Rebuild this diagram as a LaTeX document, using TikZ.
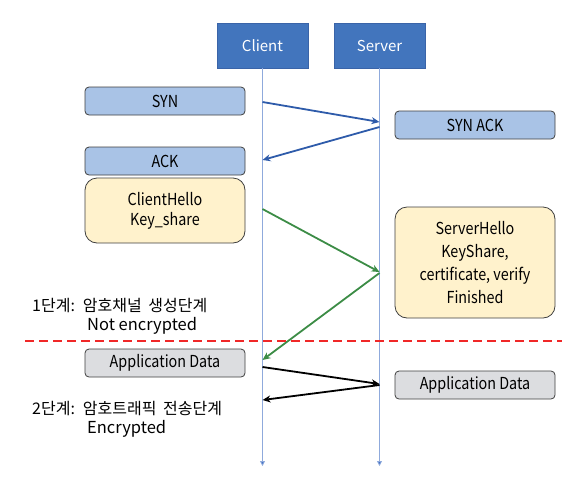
\documentclass[tikz,border=0pt]{standalone}
\usepackage{fontspec}
\setmainfont{Noto Sans CJK KR}
\newfontfamily\boxfont[FakeStretch=0.87]{Noto Sans CJK KR}
\usetikzlibrary{arrows.meta}
\newcommand{\myStepFont}{\fontsize{16}{18}\selectfont\spaceskip=0.42em plus 0.1em\relax}
\definecolor{hdr}{HTML}{4275BD}
\definecolor{hdrb}{HTML}{3A64A8}
\definecolor{life}{HTML}{8FAADC}
\definecolor{lifetip}{HTML}{4472C4}
\definecolor{ablue}{HTML}{2E5BAA}
\definecolor{agreen}{HTML}{3C8C46}
\definecolor{lblue}{HTML}{A9C3E6}
\definecolor{lyellow}{HTML}{FFF2CC}
\definecolor{lgray}{HTML}{DCDDE0}
\definecolor{bord}{HTML}{3F3F3F}
\definecolor{dred}{HTML}{F02828}
\tikzset{
  hdrbox/.style={draw=hdrb, fill=hdr, text=white, minimum width=91pt, minimum height=45pt, font=\fontsize{15}{18}\selectfont, inner sep=0pt},
  msgbox/.style={draw=bord, line width=0.8pt, rounded corners=4pt, minimum width=160pt, minimum height=28pt, inner sep=0pt, font=\boxfont\fontsize{16.5}{20}\selectfont},
  bigbox/.style={draw=bord, line width=0.8pt, rounded corners=12pt, minimum width=160pt, inner sep=0pt, align=center, font=\boxfont\fontsize{16.5}{23}\selectfont},
  lifeline/.style={draw=life, line width=0.8pt, -{Triangle[length=5pt,width=5pt,fill=lifetip]}},
  msg/.style={line width=1.8pt, -{Stealth[length=8pt,width=7pt]}},
  steptext/.style={anchor=base west, font=\myStepFont, inner sep=0pt},
  steptextb/.style={anchor=base west, font=\fontsize{16.5}{18}\selectfont, inner sep=0pt}
}
\begin{document}
\begin{tikzpicture}[x=1pt,y=-1pt]
\useasboundingbox (0,0) rectangle (588,488);
% headers
\node[hdrbox] (client) at (262.5,45.5) {Client};
\node[hdrbox] (server) at (379.5,45.5) {Server};
% lifelines
\coordinate (cend) at (262.5,466);
\coordinate (send) at (379.5,466);
\draw[lifeline] (client.south) -- (cend);
\draw[lifeline] (server.south) -- (send);
% boxes
\node[msgbox, fill=lblue] (syn) at (165,101) {SYN};
\node[msgbox, fill=lblue] (ack) at (165,161) {ACK};
\node[bigbox, fill=lyellow, minimum height=65pt] (ch) at (165,210.5) {ClientHello\\[-3pt]Key\_share};
\node[msgbox, fill=lblue] (synack) at (475,125) {SYN ACK};
\node[bigbox, fill=lyellow, minimum height=111pt] (sh) at (475,262.5) {ServerHello\\KeyShare,\\certificate, verify\\Finished};
\node[msgbox, fill=lgray] (adl) at (165,363) {Application Data};
\node[msgbox, fill=lgray] (adr) at (475,385) {Application Data};
% message points
\coordinate (c1) at (262.5,102);
\coordinate (s1) at (379.5,122);
\coordinate (s2) at (379.5,127);
\coordinate (c2) at (262.5,160);
\coordinate (c3) at (262.5,209);
\coordinate (s3) at (379.5,272);
\coordinate (s4) at (379.5,273);
\coordinate (c4) at (262.5,360);
\coordinate (c5) at (262.5,367);
\coordinate (s5) at (379.5,384);
\coordinate (s6) at (379.5,385);
\coordinate (c6) at (262.5,400);
\draw[msg, ablue] (c1) -- (s1);
\draw[msg, ablue] (s2) -- (c2);
\draw[msg, agreen] (c3) -- (s3);
\draw[msg, agreen] (s4) -- (c4);
\draw[msg, black] (c5) -- (s5);
\draw[msg, black] (s6) -- (c6);
% dashed separator
\coordinate (dl) at (25,341);
\coordinate (dr) at (562,341);
\draw[dred, line width=2.5pt, dash pattern=on 9pt off 5pt] (dl) -- (dr);
% stage labels
\node[steptext] (st1) at (32,311) {1단계: 암호채널 생성단계};
\node[steptextb] (st1b) at (87,330) {Not encrypted};
\node[steptext] (st2) at (32,414) {2단계: 암호트래픽 전송단계};
\node[steptextb] (st2b) at (87,433) {Encrypted};
\end{tikzpicture}
\end{document}
